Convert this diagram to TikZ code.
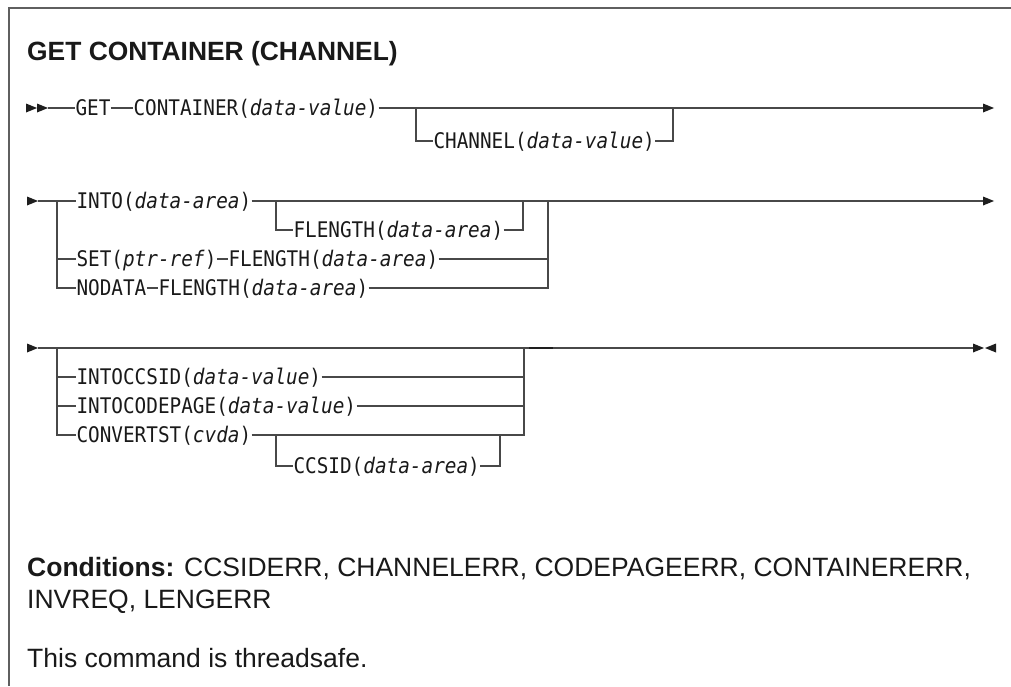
\documentclass[tikz,border=0pt]{standalone}
\usepackage{fontspec}
\setmainfont{Liberation Sans}
\newfontfamily\synfont{DejaVu Sans Mono}[FakeStretch=0.9, ItalicFont={DejaVu Sans Mono Oblique}, ItalicFeatures={FakeStretch=0.9}]
\definecolor{linec}{RGB}{72,72,72}
\definecolor{framec}{RGB}{95,95,95}
\definecolor{textc}{RGB}{25,25,25}
\definecolor{tipc}{RGB}{30,30,30}
\tikzset{
  syn/.style={font=\synfont\fontsize{21.5}{24}\selectfont, text=textc, inner xsep=0.5pt, inner ysep=0pt, outer sep=0pt, anchor=west, text height=18pt, text depth=4pt},
  rail/.style={draw=linec, line width=1.2pt, line join=miter},
  prose/.style={font=\fontsize{26.5}{30}\selectfont, text=textc, inner sep=0pt, anchor=base west},
  titletext/.style={font=\bfseries\fontsize{26.4}{30}\selectfont, text=textc, inner sep=0pt, anchor=base west},
  tri/.pic={\fill[tipc] (0,-4.5) -- (11,0) -- (0,4.5) -- cycle;},
  ltri/.pic={\fill[tipc] (0,0) -- (11,-4.5) -- (11,4.5) -- cycle;}
}
\begin{document}
\begin{tikzpicture}[x=1pt,y=-1pt]
\useasboundingbox (0,0) rectangle (1011,686);
% frame
\draw[framec, line width=1.6pt] (1011,8) -- (9,8) -- (9,686);
% title
\node[titletext] (title) at (27,60) {GET CONTAINER (CHANNEL)};

% ---------- row 1 ----------
\coordinate (a1) at (48,108);
\node[syn] (get) at (75,108) {GET};
\node[syn] (cont) at (133,108) {CONTAINER(\textit{data-value})};
\coordinate (j1a) at (416,108);
\node[syn] (chan) at (433,141) {CHANNEL(\textit{data-value})};
\coordinate (j1b) at (673,108);
\coordinate (e1) at (983,108);
\draw[rail] (a1) -- (get.west);
\draw[rail] (get.east) -- (cont.west);
\draw[rail] (cont.east) -- (e1);
\draw[rail] (j1a) |- (chan.west);
\draw[rail] (chan.east) -| (j1b);
\pic at (26,108) {tri};
\pic at (37,108) {tri};
\pic at (e1) {tri};

% ---------- row 2 ----------
\coordinate (a2) at (38,201);
\coordinate (v2t) at (57,201);
\node[syn] (into) at (76,201) {INTO(\textit{data-area})};
\coordinate (j2a) at (276,201);
\node[syn] (fl1) at (293,230) {FLENGTH(\textit{data-area})};
\coordinate (j2b) at (523,201);
\node[syn] (set) at (76,259) {SET(\textit{ptr-ref})};
\node[syn] (fl2) at (228,259) {FLENGTH(\textit{data-area})};
\node[syn] (nod) at (76,288) {NODATA};
\node[syn] (fl3) at (158,288) {FLENGTH(\textit{data-area})};
\coordinate (j2c) at (548,201);
\coordinate (e2) at (983,201);
\draw[rail] (a2) -- (into.west);
\draw[rail] (v2t) |- (nod.west);
\draw[rail] (v2t |- set.west) -- (set.west);
\draw[rail] (set.east) -- (fl2.west);
\draw[rail] (nod.east) -- (fl3.west);
\draw[rail] (into.east) -- (e2);
\draw[rail] (j2a) |- (fl1.west);
\draw[rail] (fl1.east) -| (j2b);
\draw[rail] (fl2.east) -| (j2c);
\draw[rail] (fl3.east) -| (j2c);
\pic at (27,201) {tri};
\pic at (e2) {tri};

% ---------- row 3 ----------
\coordinate (a3) at (38,348);
\coordinate (v3t) at (57,348);
\node[syn] (iccs) at (76,377) {INTOCCSID(\textit{data-value})};
\node[syn] (icp) at (76,406) {INTOCODEPAGE(\textit{data-value})};
\node[syn] (cvt) at (76,435) {CONVERTST(\textit{cvda})};
\node[syn] (ccs) at (293,466) {CCSID(\textit{data-area})};
\coordinate (j3a) at (276,435);
\coordinate (j3b) at (500,435);
\coordinate (j3c) at (524,348);
\coordinate (k3a) at (529,348);
\coordinate (k3b) at (553,348);
\coordinate (e3) at (973,348);
\draw[rail] (a3) -- (e3);
\draw[rail] (v3t) |- (cvt.west);
\draw[rail] (v3t |- iccs.west) -- (iccs.west);
\draw[rail] (v3t |- icp.west) -- (icp.west);
\draw[rail] (iccs.east) -| (j3c);
\draw[rail] (icp.east) -| (j3c);
\draw[rail] (cvt.east) -| (j3c);
\draw[rail] (j3a) |- (ccs.west);
\draw[rail] (ccs.east) -| (j3b);
\draw[tipc, line width=2.6pt] (k3a) -- (k3b);
\pic at (27,348) {tri};
\pic at (e3) {tri};
\pic at (985,348) {ltri};

% ---------- prose ----------
\node[prose] (cond) at (27,576) {\textbf{Conditions:} CCSIDERR, CHANNELERR, CODEPAGEERR, CONTAINERERR,};
\node[prose] (cond2) at (27,608) {INVREQ, LENGERR};
\node[prose] (safe) at (27,667) {This command is threadsafe.};
\end{tikzpicture}
\end{document}
